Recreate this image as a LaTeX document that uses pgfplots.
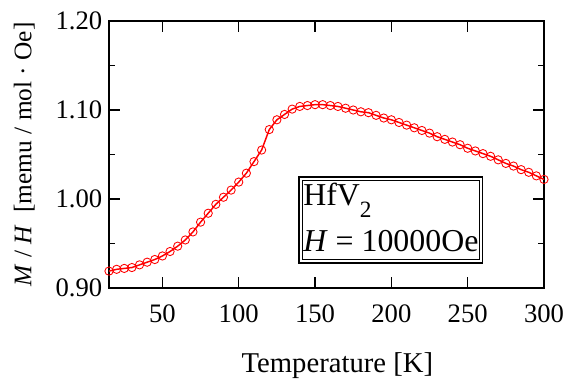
\documentclass[border=0pt]{standalone}
\usepackage{fontspec}
\setmainfont{Liberation Serif}
\usepackage{pgfplots}
\pgfplotsset{compat=1.18}
\pgfplotstableread{
T M
15 0.919
20 0.921
25 0.922
30 0.923
35 0.926
40 0.929
45 0.932
50 0.936
55 0.941
60 0.947
65 0.954
70 0.963
75 0.974
80 0.984
85 0.994
90 1.002
95 1.010
100 1.019
105 1.029
110 1.042
115 1.055
120 1.078
125 1.089
130 1.095
135 1.101
140 1.104
145 1.105
150 1.106
155 1.106
160 1.105
165 1.104
170 1.102
175 1.100
180 1.098
185 1.097
190 1.094
195 1.091
200 1.089
205 1.086
210 1.083
215 1.080
220 1.077
225 1.074
230 1.070
235 1.067
240 1.064
245 1.061
250 1.057
255 1.054
260 1.051
265 1.048
270 1.044
275 1.040
280 1.037
285 1.033
290 1.030
295 1.026
300 1.022
}\datatable
\begin{document}
\begin{tikzpicture}
\begin{axis}[
  scale only axis, width=326.25pt, height=200.25pt,
  at={(0,0)}, anchor=south west,
  xmin=15, xmax=300, ymin=0.9, ymax=1.2,
  xtick={50,100,150,200,250,300},
  ytick={0.9,1.0,1.1,1.2},
  minor ytick={0.95,1.05,1.15},
  tick align=inside,
  major tick length=8.5pt, minor tick length=4.5pt,
  axis line style={line width=1.4pt},
  every tick/.style={black, line width=1.1pt},
  /pgf/number format/assume math mode=true,
  yticklabel style={/pgf/number format/fixed, /pgf/number format/fixed zerofill, /pgf/number format/precision=2, xshift=-1.5pt},
  tick label style={font=\fontsize{20}{20}\selectfont},
  xticklabel style={yshift=-9pt},
  xlabel={Temperature [K]},
  ylabel={\textit{M} / \textit{H}\ \ [memu / mol · Oe]},
  xlabel style={font=\fontsize{21.5}{22}\selectfont, at={(axis description cs:0.525,-0.3146)}, anchor=base},
  ylabel style={font=\fontsize{19}{20}\selectfont, at={(axis description cs:-0.195,0.5)}, anchor=center},
]
\addplot[red, line width=1.1pt, mark=o, mark size=3.1pt, mark options={line width=0.65pt, solid}] table[x=T, y=M] {\datatable};
\node[draw, double, double distance=1.5pt, line width=1pt,
      inner xsep=2pt, inner ysep=3.3pt,
      font=\fontsize{23.9}{34.5}\selectfont] at (axis description cs:0.648,0.255)
  {\vbox{\baselineskip=34.5pt\lineskiplimit=-30pt
   \hbox{HfV\raisebox{-9pt}{\fontsize{17.5}{17.5}\selectfont 2}}
   \hbox{\textit{H} = 10000Oe\rule[-4pt]{0pt}{1pt}}}};
\end{axis}
\pgfresetboundingbox
\path[use as bounding box] (-81.75pt,-67.5pt) rectangle (342.75pt,216pt);
\end{tikzpicture}
\end{document}
